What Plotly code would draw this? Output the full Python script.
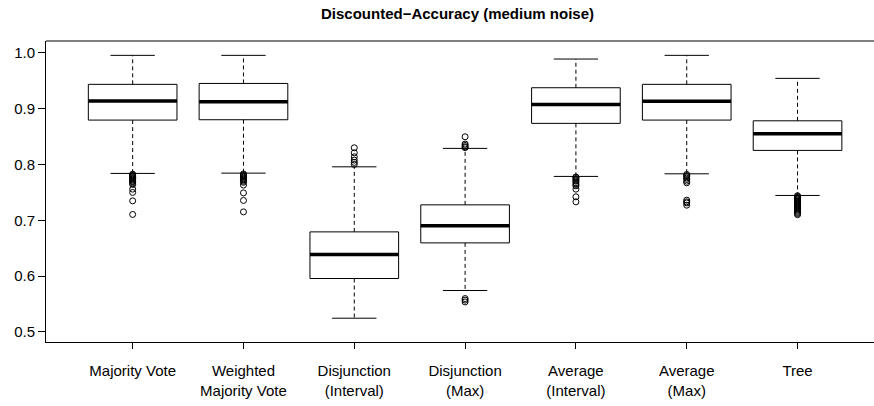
import plotly.graph_objects as go

categories = ["Majority Vote", "Weighted<br>Majority Vote", "Disjunction<br>(Interval)",
              "Disjunction<br>(Max)", "Average<br>(Interval)", "Average<br>(Max)", "Tree"]
lower_whisker = [0.7839, 0.7844, 0.5246, 0.5742, 0.7785, 0.7832, 0.7444]
q1 = [0.8794, 0.8800, 0.5957, 0.6595, 0.8735, 0.8794, 0.8251]
median = [0.9134, 0.9122, 0.6387, 0.6900, 0.9075, 0.9129, 0.8548]
q3 = [0.9434, 0.9450, 0.6792, 0.7276, 0.9373, 0.9434, 0.8781]
upper_whisker = [0.9953, 0.9953, 0.7957, 0.8287, 0.9887, 0.9953, 0.9541]
outliers = [
    [0.7825, 0.7810, 0.7795, 0.7780, 0.7765, 0.7750, 0.7737, 0.7720, 0.7700, 0.7690, 0.7665, 0.7640, 0.7557, 0.7498, 0.7348, 0.7104],
    [0.7830, 0.7815, 0.7800, 0.7785, 0.7770, 0.7755, 0.7740, 0.7720, 0.7700, 0.7680, 0.7630, 0.7490, 0.7355, 0.7150],
    [0.8298, 0.8208, 0.8136, 0.8077, 0.8036, 0.8000],
    [0.8495, 0.8364, 0.8340, 0.8315, 0.8300, 0.5598, 0.5570, 0.5538],
    [0.7775, 0.7767, 0.7745, 0.7719, 0.7700, 0.7670, 0.7640, 0.7616, 0.7557, 0.7420, 0.7330],
    [0.7820, 0.7800, 0.7780, 0.7755, 0.7730, 0.7700, 0.7670, 0.7360, 0.7330, 0.7310, 0.7270],
    [0.7440, 0.7425, 0.7410, 0.7395, 0.7380, 0.7365, 0.7350, 0.7335, 0.7320, 0.7305, 0.7290,
     0.7275, 0.7260, 0.7245, 0.7230, 0.7215, 0.7200, 0.7180, 0.7160, 0.7140, 0.7120, 0.7100],
]
title_text = "<b>Discounted\u2212Accuracy (medium noise)</b>"
y_ticks = [0.5, 0.6, 0.7, 0.8, 0.9, 1.0]

half_box = 0.4
half_cap = 0.2
positions = list(range(1, len(categories) + 1))

box_x, box_y = [], []
med_x, med_y = [], []
wh_x, wh_y = [], []
cap_x, cap_y = [], []
out_x, out_y = [], []
for i, p in enumerate(positions):
    box_x += [p - half_box, p + half_box, p + half_box, p - half_box, p - half_box, None]
    box_y += [q1[i], q1[i], q3[i], q3[i], q1[i], None]
    med_x += [p - half_box, p + half_box, None]
    med_y += [median[i], median[i], None]
    wh_x += [p, p, None, p, p, None]
    wh_y += [q3[i], upper_whisker[i], None, q1[i], lower_whisker[i], None]
    cap_x += [p - half_cap, p + half_cap, None, p - half_cap, p + half_cap, None]
    cap_y += [upper_whisker[i], upper_whisker[i], None, lower_whisker[i], lower_whisker[i], None]
    out_x += [p] * len(outliers[i])
    out_y += outliers[i]

fig = go.Figure()
fig.add_trace(go.Scatter(x=wh_x, y=wh_y, mode="lines",
                         line=dict(color="black", width=1, dash="4px,3px"), hoverinfo="skip"))
fig.add_trace(go.Scatter(x=cap_x, y=cap_y, mode="lines",
                         line=dict(color="black", width=1), hoverinfo="skip"))
fig.add_trace(go.Scatter(x=box_x, y=box_y, mode="lines",
                         line=dict(color="black", width=1), hoverinfo="skip"))
fig.add_trace(go.Scatter(x=med_x, y=med_y, mode="lines",
                         line=dict(color="black", width=3.5), hoverinfo="skip"))
fig.add_trace(go.Scatter(x=out_x, y=out_y, mode="markers",
                         marker=dict(symbol="circle-open", size=6, color="black",
                                     line=dict(width=1, color="black")),
                         hoverinfo="skip"))

# top frame line (the right side of the frame lies outside the picture)
fig.add_shape(type="line", xref="paper", yref="paper", x0=0, x1=1.01, y0=1, y1=1,
              line=dict(color="black", width=1), layer="above")

font_family = "Liberation Sans, Arial, sans-serif"
fig.update_layout(
    width=874, height=406,
    margin=dict(l=46, r=0, t=41, b=64),
    paper_bgcolor="white", plot_bgcolor="white",
    showlegend=False,
    font=dict(family=font_family, size=15, color="black"),
    title=dict(text=title_text, x=457.5 / 874, xref="container", xanchor="center",
               y=1 - 14 / 406, yref="container", yanchor="middle",
               font=dict(size=15, family=font_family, color="black")),
    xaxis=dict(range=[0.218, 7.69], tickmode="array", tickvals=positions, ticktext=categories,
               ticks="outside", ticklen=6, tickcolor="black", tickwidth=1,
               showline=True, linecolor="black", linewidth=1, mirror=False,
               showgrid=False, zeroline=False, ticklabelstandoff=9,
               tickfont=dict(size=15)),
    yaxis=dict(range=[0.482, 1.021], tickmode="array", tickvals=y_ticks, tickformat=".1f",
               ticks="outside", ticklen=7, tickcolor="black", tickwidth=1,
               showline=True, linecolor="black", linewidth=1, mirror=False,
               showgrid=False, zeroline=False, tickfont=dict(size=15)),
)
fig.write_html("out.html")
